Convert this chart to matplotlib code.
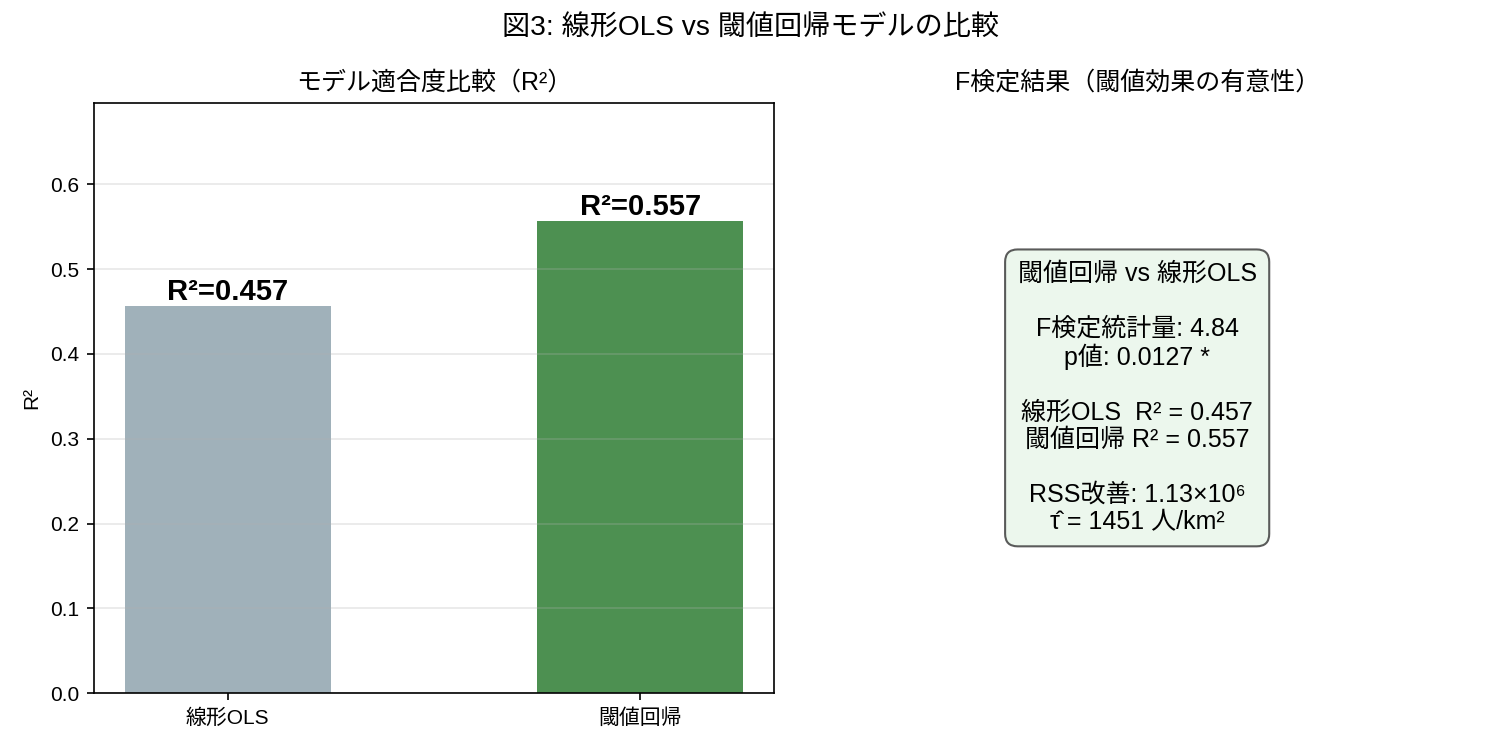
import numpy as np
import matplotlib
matplotlib.use('Agg')
import matplotlib.pyplot as plt

plt.rcParams['font.family'] = ['Liberation Sans', 'Noto Sans CJK JP', 'DejaVu Sans']

# --- data
models = ['線形OLS', '閾値回帰']
r2 = [0.457, 0.557]
colors = ['#90A4AE', '#2E7D32']

f_stat = 4.84
p_value = 0.0127
rss_gain = '1.13×10⁶'
tau_hat = 1451

# ---
fig, axes = plt.subplots(1, 2, figsize=(10, 5), dpi=150)
fig.suptitle('図3: 線形OLS vs 閾値回帰モデルの比較', fontsize=13.5)

ax = axes[0]
x = np.arange(len(models))
bars = ax.bar(x, r2, width=0.5, color=colors, alpha=0.85)
for b, v in zip(bars, r2):
    ax.text(b.get_x() + b.get_width() / 2, v, f'R²={v:.3f}',
            ha='center', va='bottom', fontsize=14, fontweight='bold')
ax.set_xticks(x)
ax.set_xticklabels(models)
ax.set_ylabel('R²')
ax.set_ylim(0, max(r2) * 1.25)
ax.set_title('モデル適合度比較（R²）', fontsize=12)
ax.grid(axis='y', alpha=0.3)

ax = axes[1]
ax.axis('off')
msg = (f'閾値回帰 vs 線形OLS\n\n'
       f'F検定統計量: {f_stat:.2f}\n'
       f'p値: {p_value:.4f} *\n\n'
       f'線形OLS  R² = {r2[0]:.3f}\n'
       f'閾値回帰 R² = {r2[1]:.3f}\n\n'
       f'RSS改善: {rss_gain}\n'
       f'\u03c4\u0302 = {tau_hat} 人/km²')
ax.text(0.5, 0.5, msg, transform=ax.transAxes, ha='center', va='center',
        fontsize=12, linespacing=1.17,
        bbox=dict(boxstyle='round,pad=0.5', facecolor='#E8F5E9', alpha=0.8, edgecolor='#333333'))
ax.set_title('F検定結果（閾値効果の有意性）', fontsize=12)

plt.tight_layout()
plt.savefig('out.png')
